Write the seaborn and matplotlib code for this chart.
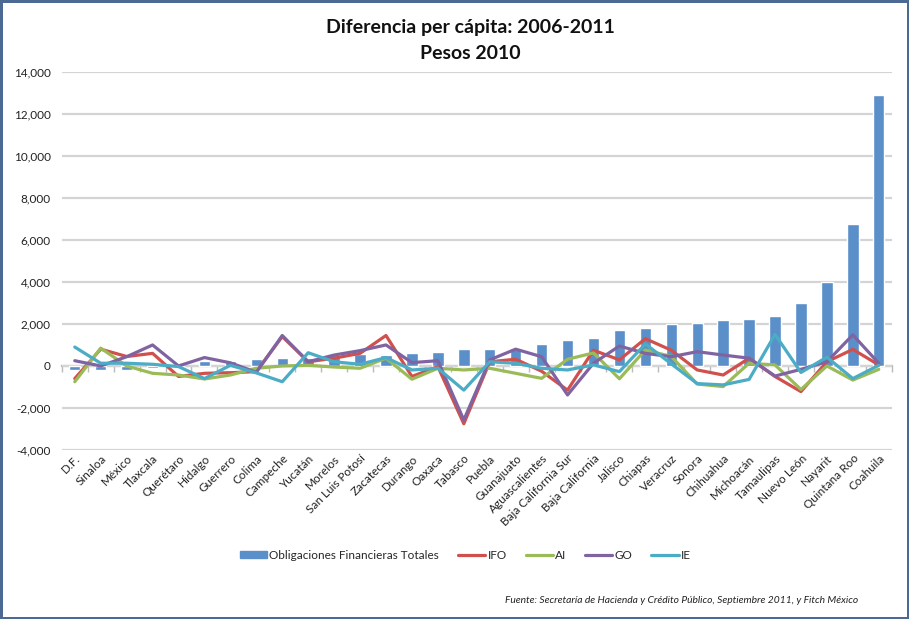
import numpy as np
import pandas as pd
import matplotlib
matplotlib.use("Agg")
import matplotlib.pyplot as plt
import seaborn as sns
from matplotlib.patches import Patch
from matplotlib.lines import Line2D
from matplotlib.ticker import FuncFormatter, MultipleLocator

# ---------------- data ----------------
states = ["D.F.", "Sinaloa", "México", "Tlaxcala", "Querétaro", "Hidalgo", "Guerrero",
          "Colima", "Campeche", "Yucatán", "Morelos", "San Luis Potosí", "Zacatecas",
          "Durango", "Oaxaca", "Tabasco", "Puebla", "Guanajuato", "Aguascalientes",
          "Baja California Sur", "Baja California", "Jalisco", "Chiapas", "Veracruz",
          "Sonora", "Chihuahua", "Michoacán", "Tamaulipas", "Nuevo León", "Nayarit",
          "Quintana Roo", "Coahuila"]

oft = [-200, -200, -200, -120, -30, 250, 230, 350, 370, 400, 500, 550, 520, 600, 650,
       800, 800, 850, 1050, 1250, 1350, 1700, 1800, 2000, 2050, 2200, 2250, 2400,
       3000, 4000, 6750, 12900]
ifo = [-600, 800, 450, 600, -500, -350, -320, -270, 1400, 200, 370, 600, 1450, -500,
       -30, -2750, 200, 320, -250, -1150, 750, 290, 1300, 750, -190, -430, 370, -500,
       -1220, 200, 790, 50]
ai = [-750, 850, 0, -350, -430, -620, -430, -110, 0, 30, -50, -110, 370, -630, -110,
      -190, -110, -350, -590, 320, 620, -610, 760, 450, -860, -980, 130, 50, -1120, 0,
      -670, -160]
go = [250, 0, 440, 1000, 0, 400, 150, -300, 1450, 200, 520, 730, 1000, 160, 250,
      -2570, 290, 800, 440, -1380, 130, 950, 600, 440, 680, 520, 370, -480, -160, 200,
      1480, 130]
ie = [900, 130, 130, 80, -30, -600, 30, -330, -750, 630, 200, 80, 400, -190, -110,
      -1150, 200, 130, -110, -190, 50, -270, 1050, 100, -840, -900, -640, 1500, -310,
      420, -600, 30]

series_names = ["IFO", "AI", "GO", "IE"]
series_vals = [ifo, ai, go, ie]
bar_label = "Obligaciones Financieras Totales"
title1 = "Diferencia per cápita: 2006-2011"
title2 = "Pesos 2010"
source = "Fuente: Secretaría de Hacienda y Crédito Público, Septiembre 2011, y Fitch México"

# ---------------- style ----------------
bar_color = "#5A8FC9"
line_colors = {"IFO": "#D0504D", "AI": "#9BBB59", "GO": "#8064A2", "IE": "#4BACC6"}
grid_color = "#D4D4D4"

sns.set_theme(style="white")
plt.rcParams["font.family"] = ["Lato", "DejaVu Sans"]

fig = plt.figure(figsize=(9.09, 6.19), dpi=100)
fig.patch.set_edgecolor("#4A6A94")
fig.patch.set_linewidth(2.5)
ax = fig.add_axes([0.068, 0.273, 0.913, 0.611])

lines_df = pd.DataFrame({
    "state": np.tile(states, len(series_names)),
    "value": np.concatenate(series_vals),
    "series": np.repeat(series_names, len(states)),
})

sns.barplot(x=states, y=oft, order=states, color=bar_color, width=0.44,
            saturation=1, ax=ax, zorder=2)
sns.pointplot(data=lines_df, x="state", y="value", hue="series", order=states,
              hue_order=series_names, palette=line_colors, markers="", linestyles="-",
              errorbar=None, dodge=False, legend=False, ax=ax, linewidth=2.3, zorder=3)

ymin, ymax = -4000, 14000
ax.set_ylim(ymin, ymax)
ax.set_xlim(-0.5, len(states) - 0.5)
ax.yaxis.set_major_locator(MultipleLocator(2000))
ax.yaxis.set_major_formatter(FuncFormatter(lambda v, p: f"{int(v):,}"))
ax.grid(axis="y", color=grid_color, linewidth=1.6, zorder=0)
ax.set_axisbelow(True)
for s in ax.spines.values():
    s.set_visible(False)
ax.set_xlabel("")
ax.set_ylabel("")
ax.tick_params(axis="y", length=0, labelsize=8.5, pad=8, labelcolor="#222222")
ax.tick_params(axis="x", length=0, labelsize=8.5, pad=2, labelcolor="#222222")
plt.setp(ax.get_xticklabels(), rotation=45, ha="right", rotation_mode="anchor")

# zero axis line with category-boundary tick marks
sec = ax.secondary_xaxis((0 - ymin) / (ymax - ymin))
sec.set_xticks(np.arange(-0.5, len(states), 1))
sec.set_xticklabels([])
sec.tick_params(axis="x", length=4, width=1, color="#BBBBBB", direction="out")
sec.spines["bottom"].set_color("#BBBBBB")
sec.spines["bottom"].set_linewidth(1.6)

# titles
fig.text(0.517, 0.955, title1, ha="center", va="center", fontsize=14,
         fontweight="bold", color="#111111")
fig.text(0.517, 0.914, title2, ha="center", va="center", fontsize=14,
         fontweight="bold", color="#111111")

# legend
handles = [Patch(facecolor=bar_color, edgecolor=bar_color)]
handles += [Line2D([0], [0], color=line_colors[n], linewidth=2.3) for n in series_names]
labels = [bar_label] + series_names
fig.legend(handles, labels, loc="center", bbox_to_anchor=(0.512, 0.103), ncol=5,
           frameon=False, fontsize=8.5, handlelength=2.3, handleheight=0.6,
           handletextpad=0.2, columnspacing=1.6)

fig.text(0.944, 0.030, source, ha="right", va="center", fontsize=7.4, style="italic",
         color="#222222")

fig.savefig("out.png", dpi=100)
